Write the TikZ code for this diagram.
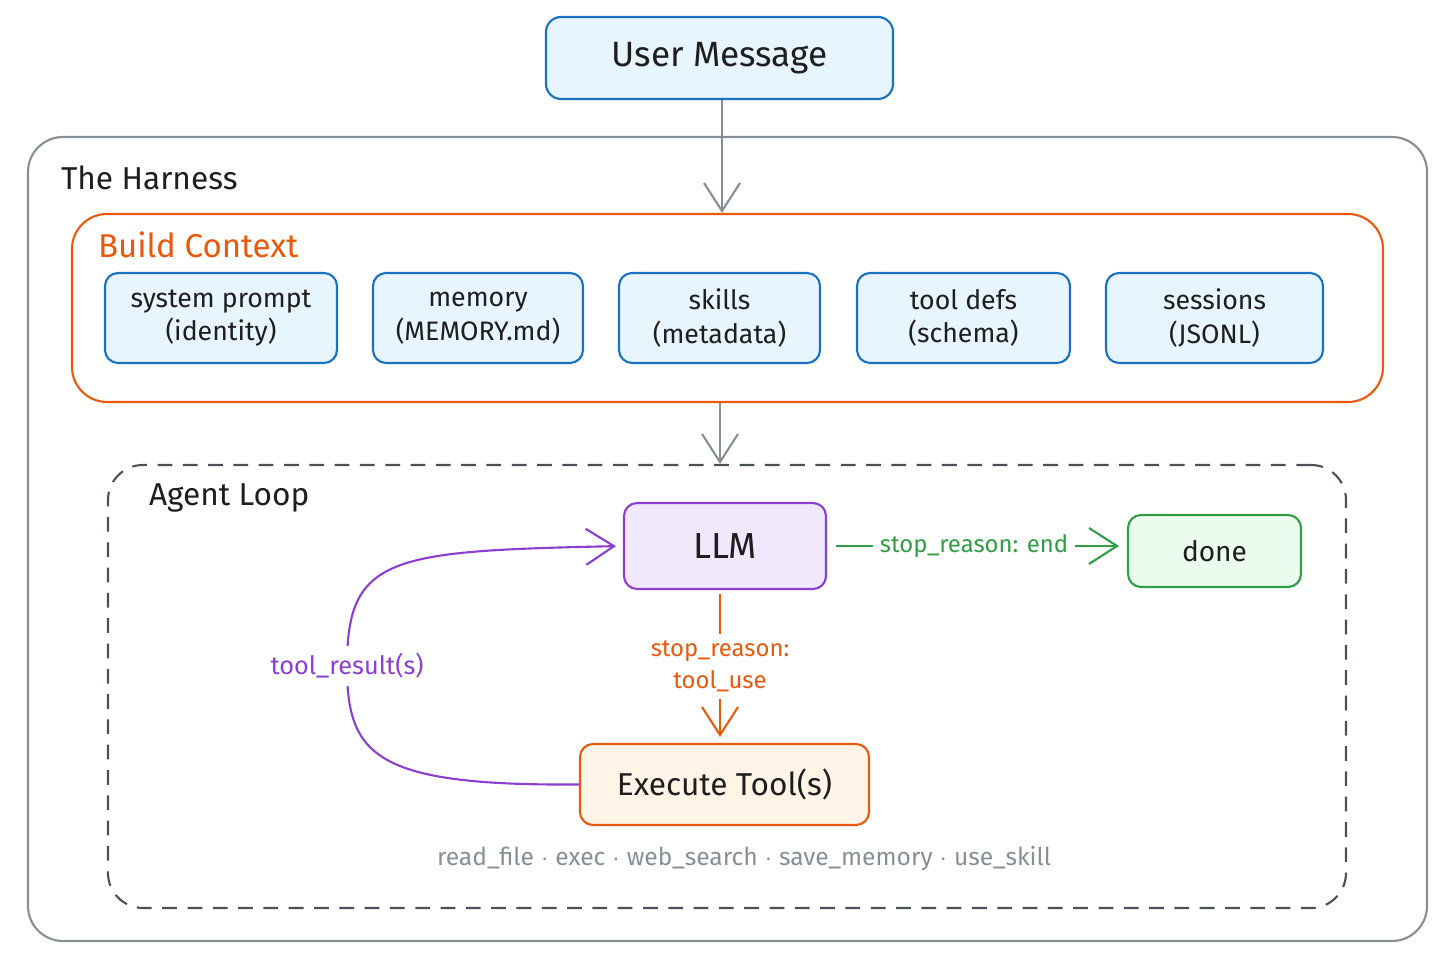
\documentclass[tikz,border=0pt]{standalone}
\usepackage{fontspec}
\setmainfont{Fira Sans}
\usepackage{xcolor}
\usetikzlibrary{arrows.meta,positioning,calc}
\definecolor{inkc}{HTML}{1E1E1E}
\definecolor{grayc}{HTML}{868E96}
\definecolor{dashc}{HTML}{495057}
\definecolor{bluec}{HTML}{1971C2}
\definecolor{bluef}{HTML}{E7F5FF}
\definecolor{orangec}{HTML}{E8590C}
\definecolor{orangef}{HTML}{FFF4E6}
\definecolor{purplec}{HTML}{8A3FD1}
\definecolor{purplef}{HTML}{F2E8FC}
\definecolor{greenc}{HTML}{2F9E44}
\definecolor{greenf}{HTML}{EBFBEE}

\begin{document}
\begin{tikzpicture}[>={Straight Barb[length=2.8mm,width=3.6mm]},
    line width=0.6pt, text=inkc,
    box/.style={draw=bluec,fill=bluef,rounded corners=0.13cm,align=center,
      minimum height=0.9cm,inner sep=0pt,font=\fontsize{7.6}{9.6}\selectfont},
    frame/.style={draw,rounded corners=0.35cm,inner sep=0pt}]
        \useasboundingbox (0,0) rectangle (14.56,9.71);
        % containers
        \node[frame,draw=grayc,minimum width=13.99cm,minimum height=8.04cm] (harness) at (7.275,4.32) {};
        \node[right,inner sep=0pt] (harnesslbl) at (0.60,7.93) {\fontsize{9}{11}\selectfont The Harness};
        \node[frame,draw=orangec,minimum width=13.11cm,minimum height=1.88cm] (build) at (7.275,6.63) {};
        \node[right,inner sep=0pt,text=orangec] (buildlbl) at (0.97,7.26) {\fontsize{9.4}{11}\selectfont Build Context};
        \node[frame,draw=dashc,dash pattern=on 4.2pt off 3pt,minimum width=12.38cm,minimum height=4.43cm] (loop) at (7.27,2.845) {};
        \node[right,inner sep=0pt] (looplbl) at (1.48,4.73) {\fontsize{9}{11}\selectfont Agent Loop};
        % input
        \node[box,minimum width=3.47cm,minimum height=0.82cm,rounded corners=0.15cm,
          font=\fontsize{10}{12}\selectfont] (user) at (7.195,9.13) {User Message};
        % context parts
        \node[box,minimum width=2.32cm] (sysprompt) at (2.21,6.53) {system prompt\\(identity)};
        \node[box,minimum width=2.10cm] (memory) at (4.78,6.53) {memory\\(MEMORY.md)};
        \node[box,minimum width=2.01cm] (skills) at (7.195,6.53) {skills\\(metadata)};
        \node[box,minimum width=2.13cm] (tooldefs) at (9.635,6.53) {tool defs\\(schema)};
        \node[box,minimum width=2.17cm] (sessions) at (12.145,6.53) {sessions\\(JSONL)};
        % loop nodes
        \node[box,draw=purplec,fill=purplef,minimum width=2.02cm,minimum height=0.86cm,
          font=\fontsize{10.3}{12}\selectfont] (llm) at (7.25,4.25) {LLM};
        \node[box,draw=greenc,fill=greenf,minimum width=1.73cm,minimum height=0.72cm,
          font=\fontsize{8}{10}\selectfont] (done) at (12.145,4.20) {done};
        \node[box,draw=orangec,fill=orangef,minimum width=2.89cm,minimum height=0.81cm,
          font=\fontsize{9}{11}\selectfont] (exec) at (7.245,1.865) {Execute Tool(s)};
        \node[text=grayc] (toollist) at (7.44,1.12) {\fontsize{7}{9}\selectfont read\_file $\cdot$ exec $\cdot$ web\_search $\cdot$ save\_memory $\cdot$ use\_skill};
        % arrows
        \draw[->,grayc] (user.south -| 7.22,0) -- (build.north -| 7.22,0);
        \draw[->,grayc] (build.south -| 7.20,0) -- (loop.north -| 7.20,0);
        \draw[->,greenc,shorten <=0.09cm,shorten >=0.08cm] (llm.east) -- (done.west |- llm.east)
          node[pos=0.49,fill=white,inner sep=2pt,text=greenc,font=\fontsize{6.8}{9}\selectfont] (endlbl) {stop\_reason: end};
        \draw[->,orangec,shorten <=0.04cm,shorten >=0.06cm] (llm.south -| 7.20,0) -- (exec.north -| 7.20,0)
          node[midway,fill=white,inner sep=2pt,align=center,text=orangec,font=\fontsize{6.8}{9}\selectfont] (uselbl) {stop\_reason:\\tool\_use};
        \draw[->,purplec,shorten >=0.07cm] (exec.west) .. controls (3.75,1.85) and (3.47,2.15) .. (3.47,3.05)
          .. controls (3.47,4.15) and (3.9,4.2) .. (llm.west);
        \node[fill=white,inner sep=2pt,text=purplec,font=\fontsize{7.2}{9}\selectfont] (resultlbl) at (3.47,3.05) {tool\_result(s)};
      \end{tikzpicture}
\end{document}
